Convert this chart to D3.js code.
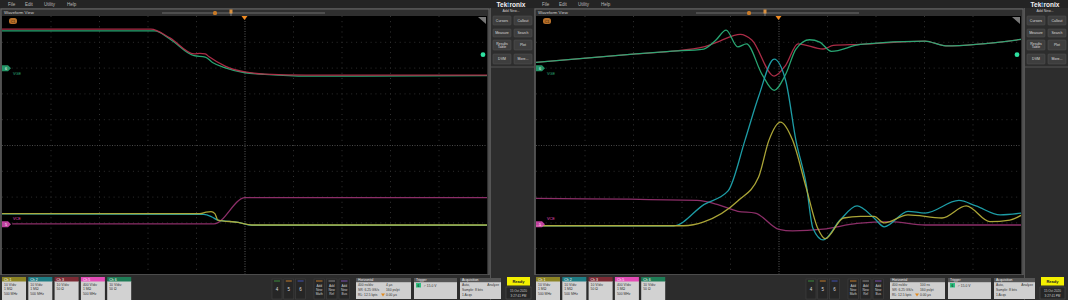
<!DOCTYPE html>
<html><head><meta charset="utf-8">
<script src="https://cdn.jsdelivr.net/npm/d3@7"></script>
<style>html,body{margin:0;padding:0;background:#333;}svg{display:block;}</style>
</head><body>
<svg id="c" width="1068" height="300"></svg>
<script>
// ---- Data (x in horizontal divisions 0..10, y in vertical divisions -5..5) ----
const menuItems = ["File", "Edit", "Utility", "Help"];
const sideButtons = [["Cursors", "Callout"], ["Measure", "Search"], ["Results Table", "Plot"], ["DVM", "More..."]];
const channelLabels = ["Ch 1", "Ch 2", "Ch 3", "Ch 5", "Ch 6"];
const channelLines = [["10 V/div", "1 MΩ", "500 MHz"], ["10 V/div", "1 MΩ", "500 MHz"], ["10 V/div", "50 Ω", ""], ["400 V/div", "1 MΩ", "500 MHz"], ["10 V/div", "50 Ω", ""]];
const horizLeft = ["400 ns/div", "SR: 6.25 GS/s", "RL: 12.5 kpts"];
const horizLeftVals = ["4 µs", "160 ps/pt", "0.00 µs"];
const horizRightVals = ["100 ns", "160 ps/pt", "0.00 µs"];
const xTicks = [0,1,2,3,4,5,6,7,8,9,10];
const yTicks = [-5,-4,-3,-2,-1,0,1,2,3,4,5];

// Left panel (turn-off, slow timebase)
const leftCh3 = [[0,4.49],[3.07,4.49],[3.46,4.15],[3.96,3.53],[4.08,3.55],[4.19,3.53],[4.27,3.42],[4.60,3.06],[5.01,2.83],[5.42,2.75],[6.27,2.71],[10,2.71]];
const leftCh6 = [[0,4.42],[3.15,4.42],[3.46,4.11],[3.96,3.46],[4.19,3.41],[4.34,3.20],[4.59,3.00],[5.01,2.80],[5.42,2.74],[6.27,2.67],[10,2.69]];
const leftCh1 = [[0,-2.66],[4.08,-2.66],[4.21,-2.60],[4.31,-2.58],[4.39,-2.66],[4.45,-2.91],[4.87,-3.00],[5.15,-3.10],[10,-3.10]];
const leftCh2 = [[0,-2.67],[4.16,-2.69],[4.33,-2.79],[4.45,-2.91],[4.87,-3.00],[5.15,-3.11],[10,-3.11]];
const leftCh5 = [[0.21,-3.06],[4.37,-3.06],[5.01,-2.04],[10,-2.04]];

// Right panel (zoomed switching transient)
const rightCh6 = [[0,3.20],[2.06,3.53],[2.76,3.63],[3.46,3.72],[3.71,4.07],[3.92,4.45],[4.16,3.80],[4.34,3.92],[4.66,2.74],[4.91,2.12],[5.15,2.75],[5.36,3.72],[5.64,4.08],[5.85,3.99],[6.09,3.63],[6.69,3.90],[8.02,4.03],[8.45,3.84],[10,4.09]];
const rightCh3 = [[0,3.20],[2.06,3.53],[2.76,3.63],[3.46,3.80],[3.79,4.03],[4.21,4.29],[4.45,4.07],[4.91,2.67],[5.15,3.10],[5.40,3.92],[5.92,3.72],[6.13,3.86],[6.69,3.90],[8.02,4.03],[8.45,3.84],[10,4.09]];
const rightCh2 = [[0,-3.13],[2.84,-3.13],[3.46,-2.31],[3.96,-1.78],[4.31,0.19],[4.59,1.88],[4.91,3.33],[5.15,2.48],[5.36,0.17],[5.57,-1.51],[5.71,-3.23],[5.92,-3.68],[6.27,-2.91],[6.62,-2.36],[6.97,-2.83],[7.18,-3.17],[7.67,-2.57],[8.02,-2.64],[8.72,-2.15],[9.07,-2.36],[9.57,-2.71],[10,-2.64]];
const rightCh1 = [[0,-3.13],[3.04,-3.13],[3.46,-2.98],[4.16,-2.17],[4.59,-1.24],[4.80,0.17],[5.04,0.89],[5.29,0.19],[5.57,-1.65],[5.81,-3.23],[5.96,-3.63],[6.34,-2.83],[6.69,-2.77],[6.97,-2.77],[7.18,-3.02],[7.67,-2.71],[8.37,-2.83],[8.87,-2.36],[9.36,-2.97],[9.77,-2.91],[10,-2.73]];
const rightCh5 = [[0,-2.07],[3.32,-2.15],[3.75,-2.31],[4.16,-2.57],[4.52,-2.64],[5.01,-3.27],[5.29,-3.33],[5.92,-3.26],[6.62,-3.04],[7.32,-2.97],[8.02,-3.10],[10,-3.10]];

const gndMarkers = [{ch:"6", label:"VGE", y:2.97, col:"#2aae78"}, {ch:"5", label:"VCE", y:-3.07, col:"#e04cb8"}];

// ---- styles ----
const colors = {ch1:"#b4ae3a", ch2:"#1fa4ae", ch3:"#b32e4a", ch5:"#93306e", ch6:"#2aae78"};
const chanHeadColors = ["#8c8424", "#1e7c84", "#7c2a34", "#e24cb6", "#1e7c56"];

const svg = d3.select("#c");
const font = "'Liberation Sans', Arial, sans-serif";

function drawPanel(ox, traces, hVals, gy) {
  const g = svg.append("g").attr("transform", `translate(${ox},0)`);
  g.append("rect").attr("x",0).attr("y",0).attr("width",534).attr("height",300).attr("fill","#3b3b3b");
  g.append("rect").attr("x",0).attr("y",0).attr("width",534).attr("height",8).attr("fill","#242424");
  g.selectAll("text.menu").data(menuItems).join("text")
    .attr("x",(d,i)=>[8,25,44,67][i]).attr("y",5.6).attr("font-size",4.5).attr("fill","#b8b8b8")
    .attr("font-family",font).text(d=>d);
  // sidebar
  g.append("rect").attr("x",490).attr("y",8).attr("width",44).attr("height",292).attr("fill","#2d2d2d");
  g.append("line").attr("x1",490.5).attr("x2",490.5).attr("y1",8).attr("y2",300).attr("stroke","#555");
  const logo = g.append("text").attr("x",511).attr("y",7).attr("text-anchor","middle")
    .attr("font-size",6.5).attr("font-weight","bold").attr("font-family",font).attr("fill","#f2f2f2");
  logo.append("tspan").text("Tek");
  logo.append("tspan").attr("fill","#4aa0e0").text("t");
  logo.append("tspan").text("ronix");
  g.append("text").attr("x",511).attr("y",12).attr("text-anchor","middle").attr("font-size",3.5)
    .attr("font-family",font).attr("fill","#ccc").text("Add New...");
  const rowY = [16,29,40,54], rowH = [9,8,10,10];
  sideButtons.forEach((row,ri)=>{
    row.forEach((lab,ci)=>{
      const bx = ci===0 ? 493 : 514;
      g.append("rect").attr("x",bx).attr("y",rowY[ri]).attr("width",18).attr("height",rowH[ri])
        .attr("rx",1).attr("fill","#3e3e3e").attr("stroke","#555").attr("stroke-width",0.5);
      const words = lab.split(" ");
      words.forEach((w,wi)=>{
        g.append("text").attr("x",bx+9).attr("y",rowY[ri]+rowH[ri]/2+1.3 + (wi-(words.length-1)/2)*3.6)
          .attr("text-anchor","middle").attr("font-size",3.5).attr("font-family",font).attr("fill","#ddd").text(w);
      });
    });
  });
  g.append("line").attr("x1",491).attr("x2",534).attr("y1",67).attr("y2",67).attr("stroke","#555");

  // waveform view frame
  g.append("rect").attr("x",1).attr("y",9).attr("width",488).attr("height",266).attr("fill","#2f2f2f").attr("stroke","#6a6a6a").attr("stroke-width",1);
  g.append("text").attr("x",4).attr("y",14).attr("font-size",4.3).attr("font-family",font).attr("fill","#cfcfcf").text("Waveform View");
  g.append("line").attr("x1",162).attr("x2",325).attr("y1",13).attr("y2",13).attr("stroke","#6e6e6e").attr("stroke-width",1);
  g.append("rect").attr("x",213).attr("y",11).attr("width",4).attr("height",4).attr("rx",1.5).attr("fill","#c87a28");
  g.append("rect").attr("x",229.5).attr("y",9.5).attr("width",3).attr("height",4).attr("fill","#d89040");
  g.append("line").attr("x1",231).attr("x2",231).attr("y1",13).attr("y2",16).attr("stroke","#aaa").attr("stroke-width",0.6);

  // plot area
  const px0 = 2, px1 = 487, py0 = 16, py1 = 274;
  const x = d3.scaleLinear().domain([0,10]).range([px0,px1]);
  const y = d3.scaleLinear().domain([-5,5]).range([py1,py0]);
  g.append("rect").attr("x",px0).attr("y",py0).attr("width",px1-px0).attr("height",py1-py0).attr("fill","#000");
  const grid = g.append("g");
  grid.selectAll("line.v").data(xTicks.slice(1,-1)).join("line")
    .attr("x1",d=>x(d)+0.5).attr("x2",d=>x(d)+0.5).attr("y1",py0).attr("y2",py1)
    .attr("stroke",d=>d===5?"#626262":"#333").attr("stroke-dasharray",d=>d===5?"1,1.5":"1,4.16").attr("stroke-width",d=>d===5?0.9:1);
  grid.selectAll("line.h").data(yTicks.slice(1,-1)).join("line")
    .attr("x1",px0).attr("x2",px1).attr("y1",d=>y(d)+0.5).attr("y2",d=>y(d)+0.5)
    .attr("stroke",d=>d===0?"#505050":"#2e2e2e").attr("stroke-dasharray",d=>d===0?"1,1.5":"1,3.85").attr("stroke-width",d=>d===0?0.9:1);
  g.append("path").attr("d",`M${px1-9},${py0+1} L${px1-1},${py0+1} L${px1-1},${py0+8} Z`).attr("fill","#777");
  g.append("path").attr("d",`M${x(5)-3},${py0} L${x(5)+3},${py0} L${x(5)},${py0+4} Z`).attr("fill","#f08a20");
  g.append("rect").attr("x",9).attr("y",18).attr("width",8).attr("height",6).attr("rx",2.5).attr("fill","#b8702a");
  g.append("text").attr("x",13).attr("y",22.6).attr("text-anchor","middle").attr("font-size",3.6).attr("font-family",font).attr("fill","#3a2000").text("C1");

  const line = d3.line().x(d=>x(d[0])).y(d=>y(d[1])).curve(d3.curveMonotoneX);
  traces.forEach(t=>{
    g.append("path").attr("d",line(t.data)).attr("fill","none").attr("stroke",t.color)
      .attr("stroke-width",1.3).attr("stroke-linejoin","round").attr("opacity",0.95);
  });

  gndMarkers.forEach(m=>{
    const yy = y(m.y);
    g.append("path").attr("d",`M${px0},${yy-3} L${px0+6},${yy-3} L${px0+9},${yy} L${px0+6},${yy+3} L${px0},${yy+3} Z`)
      .attr("fill",m.col).attr("opacity",0.85);
    g.append("text").attr("x",px0+4).attr("y",yy+1.3).attr("text-anchor","middle").attr("font-size",3.6).attr("font-family",font).attr("fill","#fff").text(m.ch);
    g.append("text").attr("x",px0+11).attr("y",m.ch==="6"?yy+7:yy-4).attr("font-size",3.8).attr("font-family",font).attr("fill",m.col).text(m.label);
  });
  g.append("circle").attr("cx",px1-4).attr("cy",y(gy)).attr("r",2.4).attr("fill","#2ee0a0");

  // bottom bar
  g.append("rect").attr("x",0).attr("y",275).attr("width",490).attr("height",25).attr("fill","#2c2c2c");
  channelLabels.forEach((lab,i)=>{
    const bx = 2 + i*26.3;
    g.append("rect").attr("x",bx).attr("y",281).attr("width",24).attr("height",19).attr("fill","#d2d2d2");
    g.append("rect").attr("x",bx).attr("y",277).attr("width",24).attr("height",4.5).attr("fill",chanHeadColors[i]);
    g.append("text").attr("x",bx+2).attr("y",280.5).attr("font-size",3.5).attr("font-family",font).attr("fill","#fff").text(lab);
    channelLines[i].forEach((t,li)=>{
      g.append("text").attr("x",bx+2).attr("y",285.5+li*4.8).attr("font-size",3.4).attr("font-family",font).attr("fill","#333").text(t);
    });
  });
  const btnCols = ["#3a8a3a","#c07a2a","#4050b0"];
  ["4","5","6"].forEach((t,i)=>{
    const bx = 272 + i*11.8;
    g.append("rect").attr("x",bx).attr("y",279).attr("width",10).attr("height",20).attr("fill","#262626").attr("stroke","#444").attr("stroke-width",0.5);
    g.append("line").attr("x1",bx+2).attr("x2",bx+8).attr("y1",281).attr("y2",281).attr("stroke",btnCols[i]).attr("stroke-width",1);
    g.append("text").attr("x",bx+5).attr("y",291).attr("text-anchor","middle").attr("font-size",4.5).attr("font-family",font).attr("fill","#ddd").text(t);
  });
  const addCols = ["#c07a2a","#888","#7a50b0"];
  ["Math","Ref","Bus"].forEach((t,i)=>{
    const bx = 314 + i*12.5;
    g.append("rect").attr("x",bx).attr("y",279).attr("width",10.5).attr("height",20).attr("fill","#262626").attr("stroke","#444").attr("stroke-width",0.5);
    g.append("line").attr("x1",bx+2).attr("x2",bx+8.5).attr("y1",281).attr("y2",281).attr("stroke",addCols[i]).attr("stroke-width",1);
    ["Add","New",t].forEach((w,wi)=>{
      g.append("text").attr("x",bx+5.25).attr("y",286.5+wi*4).attr("text-anchor","middle").attr("font-size",3.2).attr("font-family",font).attr("fill","#ccc").text(w);
    });
  });
  g.append("rect").attr("x",356).attr("y",278).attr("width",55).attr("height",21).attr("fill","#cfcfcf");
  g.append("rect").attr("x",356).attr("y",278).attr("width",55).attr("height",4.2).attr("fill","#555");
  g.append("text").attr("x",358).attr("y",281.3).attr("font-size",3.4).attr("font-family",font).attr("fill","#eee").text("Horizontal");
  horizLeft.forEach((t,i)=>{
    g.append("text").attr("x",358).attr("y",286.3+i*4.6).attr("font-size",3.3).attr("font-family",font).attr("fill","#333").text(t);
    g.append("text").attr("x",386).attr("y",286.3+i*4.6).attr("font-size",3.3).attr("font-family",font).attr("fill","#333").text(hVals[i]);
  });
  g.append("path").attr("d","M381,293.5 L385,293.5 L383,296.5 Z").attr("fill","#e08a20");
  g.append("rect").attr("x",414).attr("y",278).attr("width",43).attr("height",21).attr("fill","#cfcfcf");
  g.append("rect").attr("x",414).attr("y",278).attr("width",43).attr("height",4.2).attr("fill","#555");
  g.append("text").attr("x",416).attr("y",281.3).attr("font-size",3.4).attr("font-family",font).attr("fill","#eee").text("Trigger");
  g.append("rect").attr("x",416).attr("y",283).attr("width",5).attr("height",4.5).attr("fill","#2fbf80");
  g.append("text").attr("x",418.5).attr("y",286.5).attr("text-anchor","middle").attr("font-size",3.3).attr("font-family",font).attr("fill","#000").text("6");
  g.append("text").attr("x",424).attr("y",286.5).attr("font-size",3.3).attr("font-family",font).attr("fill","#333").text("⌐  15.0 V");
  g.append("rect").attr("x",460).attr("y",278).attr("width",41).attr("height",21).attr("fill","#cfcfcf");
  g.append("rect").attr("x",460).attr("y",278).attr("width",41).attr("height",4.2).attr("fill","#555");
  g.append("text").attr("x",462).attr("y",281.3).attr("font-size",3.4).attr("font-family",font).attr("fill","#eee").text("Acquisition");
  [["Auto,","Analyze"],["Sample: 8 bits",""],["1 Acqs",""]].forEach((r,i)=>{
    g.append("text").attr("x",462).attr("y",286.3+i*4.6).attr("font-size",3.3).attr("font-family",font).attr("fill","#333").text(r[0]);
    if (r[1]) g.append("text").attr("x",499).attr("y",286.3+i*4.6).attr("text-anchor","end").attr("font-size",3.3).attr("font-family",font).attr("fill","#333").text(r[1]);
  });
  g.append("rect").attr("x",507).attr("y",277).attr("width",23).attr("height",8.5).attr("fill","#f4f000");
  g.append("text").attr("x",518.5).attr("y",282.6).attr("text-anchor","middle").attr("font-size",4).attr("font-weight","bold").attr("font-family",font).attr("fill","#222").text("Ready");
  g.append("rect").attr("x",506).attr("y",287).attr("width",25).attr("height",12).attr("fill","#262626").attr("stroke","#555").attr("stroke-width",0.5);
  g.append("text").attr("x",518.5).attr("y",292).attr("text-anchor","middle").attr("font-size",3.1).attr("font-family",font).attr("fill","#ccc").text("15 Oct 2020");
  g.append("text").attr("x",518.5).attr("y",296.5).attr("text-anchor","middle").attr("font-size",3.1).attr("font-family",font).attr("fill","#ccc").text("3:27:41 PM");
}

drawPanel(0, [
  {data:leftCh6, color:colors.ch6},
  {data:leftCh3, color:colors.ch3},
  {data:leftCh5, color:colors.ch5},
  {data:leftCh2, color:colors.ch2},
  {data:leftCh1, color:colors.ch1}
], horizLeftVals, 3.5);
drawPanel(534, [
  {data:rightCh5, color:colors.ch5},
  {data:rightCh3, color:colors.ch3},
  {data:rightCh6, color:colors.ch6},
  {data:rightCh2, color:colors.ch2},
  {data:rightCh1, color:colors.ch1}
], horizRightVals, 3.5);
</script>
</body></html>
